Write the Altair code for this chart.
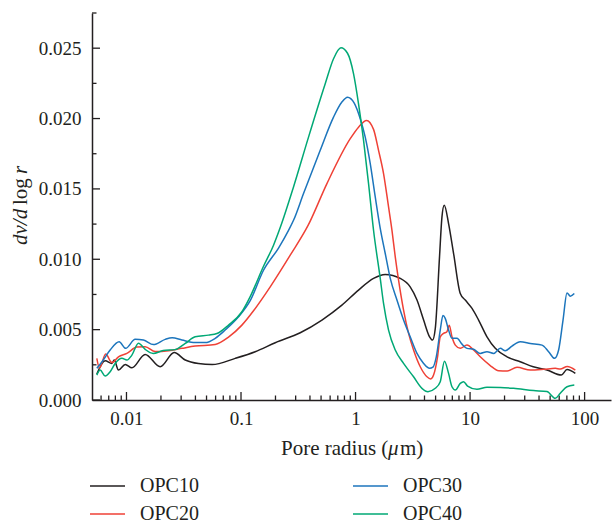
import altair as alt
import pandas as pd

# ---- data (pore radius in um, dv/dlogr) ----
series_names = ["OPC10", "OPC20", "OPC30", "OPC40"]
series_colors = ["#231f20", "#ef4136", "#1c75bc", "#00a875"]

opc10 = [(0.00551, 0.00184), (0.00652, 0.00279), (0.00746, 0.0026), (0.00781, 0.00284),
         (0.00851, 0.00213), (0.00975, 0.00253), (0.01115, 0.00229), (0.01456, 0.00324),
         (0.0197, 0.00236), (0.0261, 0.00337), (0.0326, 0.00284), (0.0425, 0.00259),
         (0.056, 0.00252), (0.089, 0.00296), (0.133, 0.00343), (0.199, 0.00407),
         (0.329, 0.00478), (0.509, 0.00568), (0.760, 0.00674), (1.062, 0.00781),
         (1.436, 0.00864), (1.817, 0.00892), (2.456, 0.00864), (3.0, 0.00804),
         (3.44, 0.0071), (3.93, 0.00568), (4.43, 0.00449), (4.70, 0.00426),
         (4.97, 0.00509), (5.41, 0.01017), (5.68, 0.0130), (5.95, 0.01384),
         (6.49, 0.01254), (7.18, 0.01041), (8.21, 0.00757), (9.08, 0.0071),
         (10.4, 0.00651), (11.87, 0.00568), (14.05, 0.00449), (16.6, 0.00367),
         (21.0, 0.00307), (27.4, 0.00272), (35.6, 0.00236), (46.9, 0.00213),
         (62.6, 0.00177), (70.2, 0.00216), (83.0, 0.00189)]

opc20 = [(0.00551, 0.00296), (0.00581, 0.00227), (0.00658, 0.00326), (0.00746, 0.00266),
         (0.00851, 0.00307), (0.01008, 0.00331), (0.01233, 0.00376), (0.01456, 0.00378),
         (0.01781, 0.00344), (0.02327, 0.0035), (0.03048, 0.00367), (0.0398, 0.00383),
         (0.0595, 0.00395), (0.0778, 0.00447), (0.1018, 0.00532), (0.1286, 0.00634),
         (0.1799, 0.00804), (0.269, 0.01029), (0.386, 0.01242), (0.5625, 0.01538),
         (0.899, 0.01857), (1.062, 0.01939), (1.248, 0.01987), (1.436, 0.01923),
         (1.588, 0.01774), (1.756, 0.01609), (1.942, 0.01372), (2.08, 0.01206),
         (2.222, 0.01017), (2.375, 0.00852), (2.626, 0.00639), (2.904, 0.00473),
         (3.211, 0.00355), (3.673, 0.00236), (4.203, 0.00165), (4.538, 0.0015),
         (4.80, 0.00177), (5.2, 0.00307), (5.49, 0.00449), (5.87, 0.00473),
         (6.28, 0.00485), (6.58, 0.00532), (6.95, 0.00449), (7.43, 0.0039),
         (8.21, 0.00367), (9.4, 0.0039), (10.73, 0.00355), (12.27, 0.00307),
         (15.0, 0.00245), (17.74, 0.00208), (21.1, 0.00206), (25.7, 0.00232),
         (33.6, 0.00213), (43.85, 0.00218), (55.5, 0.00225), (61.3, 0.0022),
         (70.6, 0.00238), (83.0, 0.00213)]

opc30 = [(0.00551, 0.00225), (0.0061, 0.0027), (0.0072, 0.00355), (0.00863, 0.00414),
         (0.00984, 0.00367), (0.01191, 0.00431), (0.01407, 0.00426), (0.0172, 0.00394),
         (0.02178, 0.00431), (0.02506, 0.00442), (0.03048, 0.00426), (0.0398, 0.00408),
         (0.04867, 0.00408), (0.0595, 0.00438), (0.0728, 0.00497), (0.0951, 0.00591),
         (0.1203, 0.00706), (0.1572, 0.00922), (0.2126, 0.0108), (0.26, 0.01206),
         (0.2874, 0.01277), (0.3514, 0.01467), (0.4916, 0.01774), (0.6424, 0.0201),
         (0.760, 0.02117), (0.851, 0.02152), (0.974, 0.0211), (1.099, 0.01999),
         (1.215, 0.01868), (1.344, 0.0168), (1.486, 0.01443), (1.643, 0.0122),
         (1.817, 0.01041), (2.01, 0.00864), (2.299, 0.0071), (2.626, 0.00568),
         (3.0, 0.00449), (3.44, 0.00331), (3.93, 0.0026), (4.43, 0.00225),
         (4.74, 0.00234), (5.07, 0.00307), (5.49, 0.00497), (5.80, 0.006),
         (6.07, 0.0058), (6.49, 0.00497), (6.95, 0.00438), (7.69, 0.00438),
         (8.5, 0.00397), (9.4, 0.00367), (10.73, 0.0036), (12.27, 0.00331),
         (14.05, 0.00343), (16.04, 0.00331), (18.36, 0.00367), (20.3, 0.0035),
         (23.2, 0.00383), (27.4, 0.00414), (33.6, 0.00402), (42.5, 0.0039),
         (48.5, 0.00343), (54.7, 0.00296), (59.3, 0.00355), (64.8, 0.00568),
         (70.2, 0.00761), (75.0, 0.00738), (81.3, 0.00757)]

opc40 = [(0.00551, 0.00177), (0.00589, 0.00213), (0.00652, 0.0017), (0.0072, 0.00201),
         (0.00797, 0.0026), (0.00912, 0.00296), (0.01008, 0.00284), (0.01115, 0.00319),
         (0.01273, 0.00404), (0.01456, 0.0036), (0.0171, 0.00331), (0.0209, 0.00351),
         (0.0266, 0.00358), (0.0326, 0.00402), (0.0398, 0.00449), (0.052, 0.00461),
         (0.0616, 0.00472), (0.0778, 0.00532), (0.1018, 0.00627), (0.1203, 0.00735),
         (0.1572, 0.0095), (0.1923, 0.0110), (0.22, 0.01225), (0.2874, 0.01514),
         (0.3886, 0.01868), (0.5436, 0.02247), (0.6424, 0.02425), (0.7455, 0.02503),
         (0.851, 0.02464), (0.961, 0.02318), (1.062, 0.02105), (1.175, 0.01845),
         (1.299, 0.01538), (1.436, 0.01206), (1.643, 0.00864), (1.756, 0.00686),
         (1.942, 0.00497), (2.222, 0.00355), (2.626, 0.0026), (3.211, 0.00165),
         (3.80, 0.00083), (4.29, 0.00059), (4.97, 0.00083), (5.49, 0.0013),
         (5.976, 0.00275), (6.49, 0.00189), (6.95, 0.00094), (7.43, 0.00071),
         (8.21, 0.00118), (8.78, 0.0013), (9.51, 0.00099), (11.49, 0.00076),
         (14.05, 0.0009), (18.36, 0.00089), (23.98, 0.00083), (35.9, 0.00067),
         (46.9, 0.0006), (55.5, 0.00012), (61.3, 0.00048), (70.2, 0.00094),
         (81.3, 0.00106)]

x_major_ticks = [0.01, 0.1, 1, 10, 100]
x_minor_ticks = [m * d for d in (0.001, 0.01, 0.1, 1, 10) for m in range(2, 10) if 0.0055 < m * d < 100]
y_major_ticks = [0.0, 0.005, 0.010, 0.015, 0.020, 0.025]
y_minor_ticks = [0.0025, 0.0075, 0.0125, 0.0175, 0.0225, 0.0275]

# ---- build tables ----
rows = []
for name, pts in (("OPC10", opc10), ("OPC20", opc20), ("OPC30", opc30), ("OPC40", opc40)):
    for i, (r, v) in enumerate(pts):
        rows.append({"series": name, "r": r, "v": v, "order": i})
lines_df = pd.DataFrame(rows)

FONT = "Liberation Serif"
INK = "#231f20"
W, H = 519, 387

xscale = alt.Scale(type="log", domain=[0.005, 170], nice=False)
yscale = alt.Scale(domain=[0, 0.0275], nice=False, zero=True)

x_axis = alt.Axis(values=x_major_ticks, format="~g", title=None, ticks=False, grid=False,
                  domainColor=INK, domainWidth=1.5, labelFont=FONT, labelFontSize=19,
                  labelColor=INK, labelPadding=9, labelOverlap=False, labelFlush=False)
y_axis = alt.Axis(values=y_major_ticks, format=".3f", title=None, ticks=False, grid=False,
                  domainColor=INK, domainWidth=1.5, labelFont=FONT, labelFontSize=19,
                  labelColor=INK, labelPadding=11, labelOverlap=False, labelFlush=False)

X = alt.X("r:Q", scale=xscale, axis=x_axis)
Y = alt.Y("v:Q", scale=yscale, axis=y_axis)

lines = alt.Chart(lines_df).mark_line(strokeWidth=1.5, interpolate="monotone").encode(
    x=X, y=Y,
    order="order:Q",
    color=alt.Color("series:N",
                    scale=alt.Scale(domain=series_names, range=series_colors),
                    legend=alt.Legend(orient="none", legendX=4.5, legendY=462, columns=2,
                                      title=None, symbolType="M-1.75,0H1.75", symbolSize=400,
                                      symbolStrokeWidth=1.5, labelFont=FONT, labelFontSize=20,
                                      labelColor=INK, labelOffset=21.5, columnPadding=150,
                                      rowPadding=7, padding=0)),
)

xt_major = alt.Chart(pd.DataFrame({"r": x_major_ticks})).mark_rule(color=INK, strokeWidth=1.3).encode(
    x=X, y=alt.value(H), y2=alt.value(H - 8))
xt_minor = alt.Chart(pd.DataFrame({"r": x_minor_ticks})).mark_rule(color=INK, strokeWidth=1.3).encode(
    x=X, y=alt.value(H), y2=alt.value(H - 4.5))
yt_major = alt.Chart(pd.DataFrame({"v": y_major_ticks})).mark_rule(color=INK, strokeWidth=1.3).encode(
    y=Y, x=alt.value(0), x2=alt.value(8))
yt_minor = alt.Chart(pd.DataFrame({"v": y_minor_ticks})).mark_rule(color=INK, strokeWidth=1.3).encode(
    y=Y, x=alt.value(0), x2=alt.value(4.5))

def label(text, x, y, angle=0, style="normal", size=21):
    return alt.Chart(pd.DataFrame({"t": [text]})).mark_text(
        font=FONT, fontSize=size, fontStyle=style, color=INK, align="left",
        baseline="alphabetic", angle=angle).encode(
        text="t:N", x=alt.value(x), y=alt.value(y))

y_title = [label("dv/d", -65, 232, 270, "italic"),
           label("log", -65, 192, 270),
           label("r", -65, 161, 270, "italic")]
x_title = [label("Pore radius (", 189, 442),
           label("μ", 296, 442, 0, "italic"),
           label("m)", 308, 442)]

chart = alt.layer(xt_major, xt_minor, yt_major, yt_minor, lines, *y_title, *x_title).properties(
    width=W, height=H,
    padding={"left": 92, "top": 13, "right": 5, "bottom": 124},
    autosize=alt.AutoSizeParams(type="none"),
    background="white",
).configure_view(stroke=None).configure_axis(
    labelFont=FONT, labelFontSize=19, labelColor=INK
).configure_legend(labelFont=FONT)

chart.save("out.html", embed_options={"renderer": "svg", "actions": False})
